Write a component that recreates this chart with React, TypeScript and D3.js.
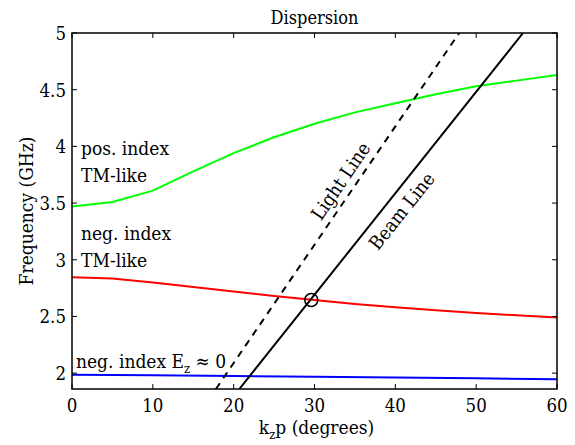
import React from "react";
import * as d3 from "d3";

const kzGreen = [0, 5, 10, 15, 20, 25, 30, 35, 40, 45, 50, 55, 60];
const fGreen = [3.47, 3.51, 3.61, 3.78, 3.94, 4.08, 4.2, 4.3, 4.38, 4.46, 4.53, 4.58, 4.63];
const kzRed = [0, 5, 10, 15, 20, 25, 30, 35, 40, 45, 50, 55, 60];
const fRed = [2.845, 2.835, 2.8, 2.76, 2.72, 2.68, 2.645, 2.61, 2.58, 2.555, 2.53, 2.51, 2.49];
const kzBlue = [0, 10, 20, 30, 40, 50, 60];
const fBlue = [1.985, 1.982, 1.975, 1.968, 1.962, 1.955, 1.945];
const kzLight = [17.8, 47.9];
const fLight = [1.86, 5];
const kzBeam = [20.7, 55.8];
const fBeam = [1.86, 5];
const crossing = { kz: 29.6, f: 2.645 };
const xTicks = [0, 10, 20, 30, 40, 50, 60];
const yTicks = [2, 2.5, 3, 3.5, 4, 4.5, 5];

const W = 575, H = 445;
const L = 72, R = 557, T = 33, B = 389;
const FONT = '"DejaVu Serif Condensed", "DejaVu Serif", serif';

function Txt(props: any) {
  return <text style={{ fontFamily: FONT, fontStretch: "condensed" }} fill="#000" {...props} />;
}

export default function App() {
  const x = d3.scaleLinear().domain([0, 60]).range([L, R]);
  const y = d3.scaleLinear().domain([1.86, 5]).range([B, T]);
  const line = d3.line<[number, number]>().x(d => x(d[0])).y(d => y(d[1]));
  const zip = (a: number[], b: number[]) => a.map((v, i) => [v, b[i]] as [number, number]);
  const angle = (kz: number[], f: number[]) =>
    (Math.atan2(y(f[1]) - y(f[0]), x(kz[1]) - x(kz[0])) * 180) / Math.PI;
  const aLight = angle(kzLight, fLight);
  const aBeam = angle(kzBeam, fBeam);
  return (
    <svg width={W} height={H} style={{ position: "absolute", left: 0, top: 0, background: "#fff" }}>
      <defs>
        <clipPath id="plot">
          <rect x={L} y={T} width={R - L} height={B - T} />
        </clipPath>
      </defs>
      <rect x={0} y={0} width={W} height={H} fill="#fff" />
      <g clipPath="url(#plot)" fill="none">
        <path d={line(zip(kzGreen, fGreen)) || ""} stroke="#00ff00" strokeWidth={2} />
        <path d={line(zip(kzRed, fRed)) || ""} stroke="#ff0000" strokeWidth={2} />
        <path d={line(zip(kzBlue, fBlue)) || ""} stroke="#0000ff" strokeWidth={2} />
        <path d={line(zip(kzLight, fLight)) || ""} stroke="#000" strokeWidth={2} strokeDasharray="7,6" />
        <path d={line(zip(kzBeam, fBeam)) || ""} stroke="#000" strokeWidth={2} />
        <circle cx={x(crossing.kz)} cy={y(crossing.f)} r={6.5} stroke="#000" strokeWidth={1.5} />
      </g>
      {xTicks.map(t => (
        <g key={"x" + t}>
          <line x1={x(t)} x2={x(t)} y1={B} y2={B - 5} stroke="#000" />
          <line x1={x(t)} x2={x(t)} y1={T} y2={T + 5} stroke="#000" />
          <Txt x={x(t)} y={B + 23} fontSize={18.5} textAnchor="middle">{t}</Txt>
        </g>
      ))}
      {yTicks.map(t => (
        <g key={"y" + t}>
          <line x1={L} x2={L + 5} y1={y(t)} y2={y(t)} stroke="#000" />
          <line x1={R} x2={R - 5} y1={y(t)} y2={y(t)} stroke="#000" />
          <Txt x={L - 6} y={y(t) + 7} fontSize={18.5} textAnchor="end">{t}</Txt>
        </g>
      ))}
      <rect x={L} y={T} width={R - L} height={B - T} fill="none" stroke="#000" strokeWidth={1.5} />
      <Txt x={(L + R) / 2} y={24} fontSize={18} textAnchor="middle">Dispersion</Txt>
      <Txt x={(L + R) / 2 + 2} y={434} fontSize={19} textAnchor="middle">
        k<tspan fontSize={13} dy={5}>z</tspan><tspan dy={-5}>p (degrees)</tspan>
      </Txt>
      <Txt transform={`translate(33,${(T + B) / 2}) rotate(-90)`} fontSize={19} textAnchor="middle">
        Frequency (GHz)
      </Txt>
      <Txt x={81} y={155} fontSize={19}>pos. index</Txt>
      <Txt x={81} y={182} fontSize={19}>TM-like</Txt>
      <Txt x={81} y={240} fontSize={19}>neg. index</Txt>
      <Txt x={81} y={267} fontSize={19}>TM-like</Txt>
      <Txt x={76} y={368} fontSize={19}>
        neg. index E<tspan fontSize={13} dy={5}>z</tspan><tspan dy={-5}> ≈ 0</tspan>
      </Txt>
      <Txt transform={`translate(342,182) rotate(${aLight})`} fontSize={19} textAnchor="middle" dominantBaseline="middle">
        Light Line
      </Txt>
      <Txt transform={`translate(403,212) rotate(${aBeam})`} fontSize={19} textAnchor="middle" dominantBaseline="middle">
        Beam Line
      </Txt>
    </svg>
  );
}
